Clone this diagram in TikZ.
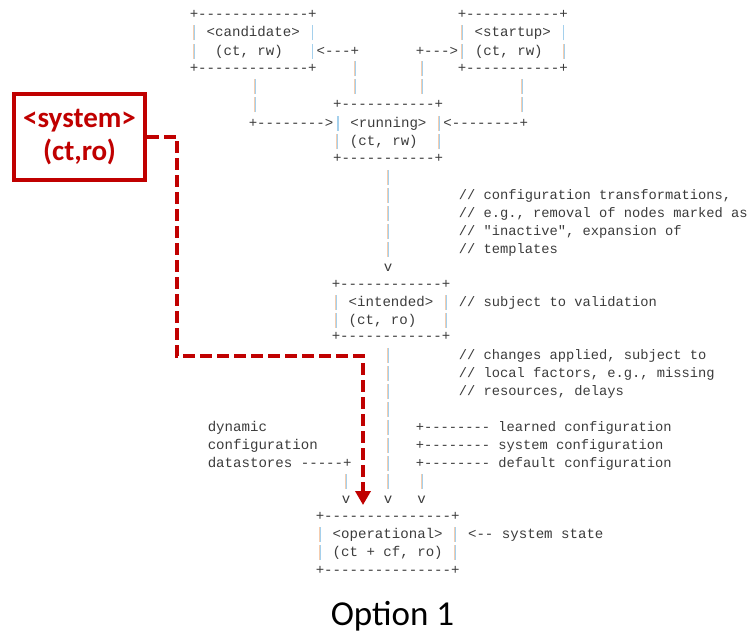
\documentclass[tikz,border=0pt]{standalone}
\usepackage{fontspec}
\setmonofont{Liberation Mono}
\newfontfamily\calib{Carlito}
\usetikzlibrary{arrows.meta}
\definecolor{asciitext}{RGB}{60,60,60}
\definecolor{barpeach}{RGB}{245,205,175}
\definecolor{barblue}{RGB}{165,208,236}
\definecolor{sysred}{RGB}{192,0,0}
\newcommand{\vb}{\makebox[0.6em]{\textcolor{barpeach}{\rule[-3.5pt]{0.8pt}{15pt}}\textcolor{barblue}{\rule[-3.5pt]{1.1pt}{15pt}}}}
\newcommand{\seg}[4]{\node[asc] (#1) at ({#2-4.23},{#3+4}) {#4};}
\newcommand{\segc}[4]{\node[asc,cmt] (#1) at ({#2-4.1},{#3+4}) {#4};}
\begin{document}
\begin{tikzpicture}[x=1pt,y=-1pt,
  asc/.style={font=\ttfamily\fontsize{14.1}{14.1}\selectfont, text=asciitext, inner sep=0pt, outer sep=0pt, anchor=base west},
  cmt/.style={font=\ttfamily\fontsize{13.75}{13.75}\selectfont},
  sysbox/.style={draw=sysred, line width=4pt, minimum width=131pt, minimum height=86pt, inner sep=0pt, text=sysred, align=center, font=\calib\bfseries\fontsize{29}{33}\selectfont},
  sysarrow/.style={draw=sysred, line width=4pt, dash pattern=on 12pt off 5pt, -{Triangle[width=15pt,length=14pt]}},
  caption/.style={font=\calib\fontsize{35}{40}\selectfont, text=black, inner sep=0pt, anchor=base}]
\useasboundingbox (0,0) rectangle (751,635);
\fill[white] (0,0) rectangle (751,635);
% candidate / startup
\seg{c0}{194}{14}{+-------------+}
\seg{s0}{462}{14}{+-----------+}
\seg{c1}{194}{32.5}{\vb~<candidate>~\vb}
\seg{s1}{462}{32.5}{\vb~<startup>~\vb}
\seg{c2}{194}{51}{\vb~~(ct,~rw)~~~\vb<---+}
\seg{s2}{420}{51}{+--->\vb~(ct,~rw)~~\vb}
\seg{c3}{194}{68.5}{+-------------+~~~~\vb}
\seg{s3a}{421.7}{68.5}{\vb}
\seg{s3}{462}{68.5}{+-----------+}
\seg{b4a}{255}{86}{\vb}
\seg{b4b}{354.7}{86}{\vb}
\seg{b4c}{421.7}{86}{\vb}
\seg{b4d}{521.7}{86}{\vb}
\seg{b5a}{255}{104.5}{\vb}
\seg{r5}{337.3}{104.5}{+-----------+}
\seg{b5d}{521.7}{104.5}{\vb}
% running
\seg{r6}{253}{123}{+-------->\vb~<running>~\vb<--------+}
\seg{r7}{337.3}{141.5}{\vb~(ct,~rw)~~\vb}
\seg{r8}{337.3}{158}{+-----------+}
\seg{b9}{388}{177}{\vb}
\seg{b10}{388}{195}{\vb}
\seg{b11}{388}{213}{\vb}
\seg{b12}{388}{231}{\vb}
\seg{b13}{388}{249}{\vb}
\segc{k10}{463}{195}{//~configuration~transformations,}
\segc{k11}{463}{213}{//~e.g.,~removal~of~nodes~marked~as}
\segc{k12}{463}{231}{//~"inactive",~expansion~of}
\segc{k13}{463}{249}{//~templates}
\seg{v14}{388}{267}{v}
% intended
\seg{i15}{336}{284}{+------------+}
\seg{i16}{336}{302}{\vb~<intended>~\vb}
\segc{k16}{463}{302}{//~subject~to~validation}
\seg{i17}{336}{320}{\vb~(ct,~ro)~~~\vb}
\seg{i18}{336}{336}{+------------+}
\seg{b19}{388}{355}{\vb}
\seg{b20}{388}{373}{\vb}
\seg{b21}{388}{391}{\vb}
\seg{b22}{388}{409}{\vb}
\seg{b23}{388}{427}{\vb}
\seg{b24}{388}{445}{\vb}
\seg{b25}{388}{463}{\vb}
\seg{b26}{388}{481}{\vb}
\segc{k19}{463}{355}{//~changes~applied,~subject~to}
\segc{k20}{463}{373}{//~local~factors,~e.g.,~missing}
\segc{k21}{463}{391}{//~resources,~delays}
\segc{l23}{420}{427}{+--------~learned~configuration}
\segc{l24}{420}{445}{+--------~system~configuration}
\segc{l25}{420}{463}{+--------~default~configuration}
\seg{d23}{212}{427}{dynamic}
\seg{d24}{212}{445}{configuration}
\seg{d25}{212}{463}{datastores~-----+}
\seg{b26a}{346}{481}{\vb}
\seg{b26c}{421.7}{481}{\vb}
\seg{v27a}{346}{499}{v}
\seg{v27b}{388}{499}{v}
\seg{v27c}{421.7}{499}{v}
% operational
\seg{o28}{320}{516}{+---------------+}
\seg{o29}{320}{534}{\vb~<operational>~\vb~<--~system~state}
\seg{o30}{320}{552}{\vb~(ct~+~cf,~ro)~\vb}
\seg{o31}{320}{570}{+---------------+}
% system box and arrow
\node[sysbox] (sys) at (79.5,137) {<system>\\(ct,ro)};
\coordinate (bend) at (363,356);
\coordinate (tip) at (363,505);
\draw[sysarrow] (sys.east) -- ++(30,0) |- (bend) -- (tip);
% caption
\node[caption] (cap) at (392.5,625) {Option 1};
\end{tikzpicture}
\end{document}
